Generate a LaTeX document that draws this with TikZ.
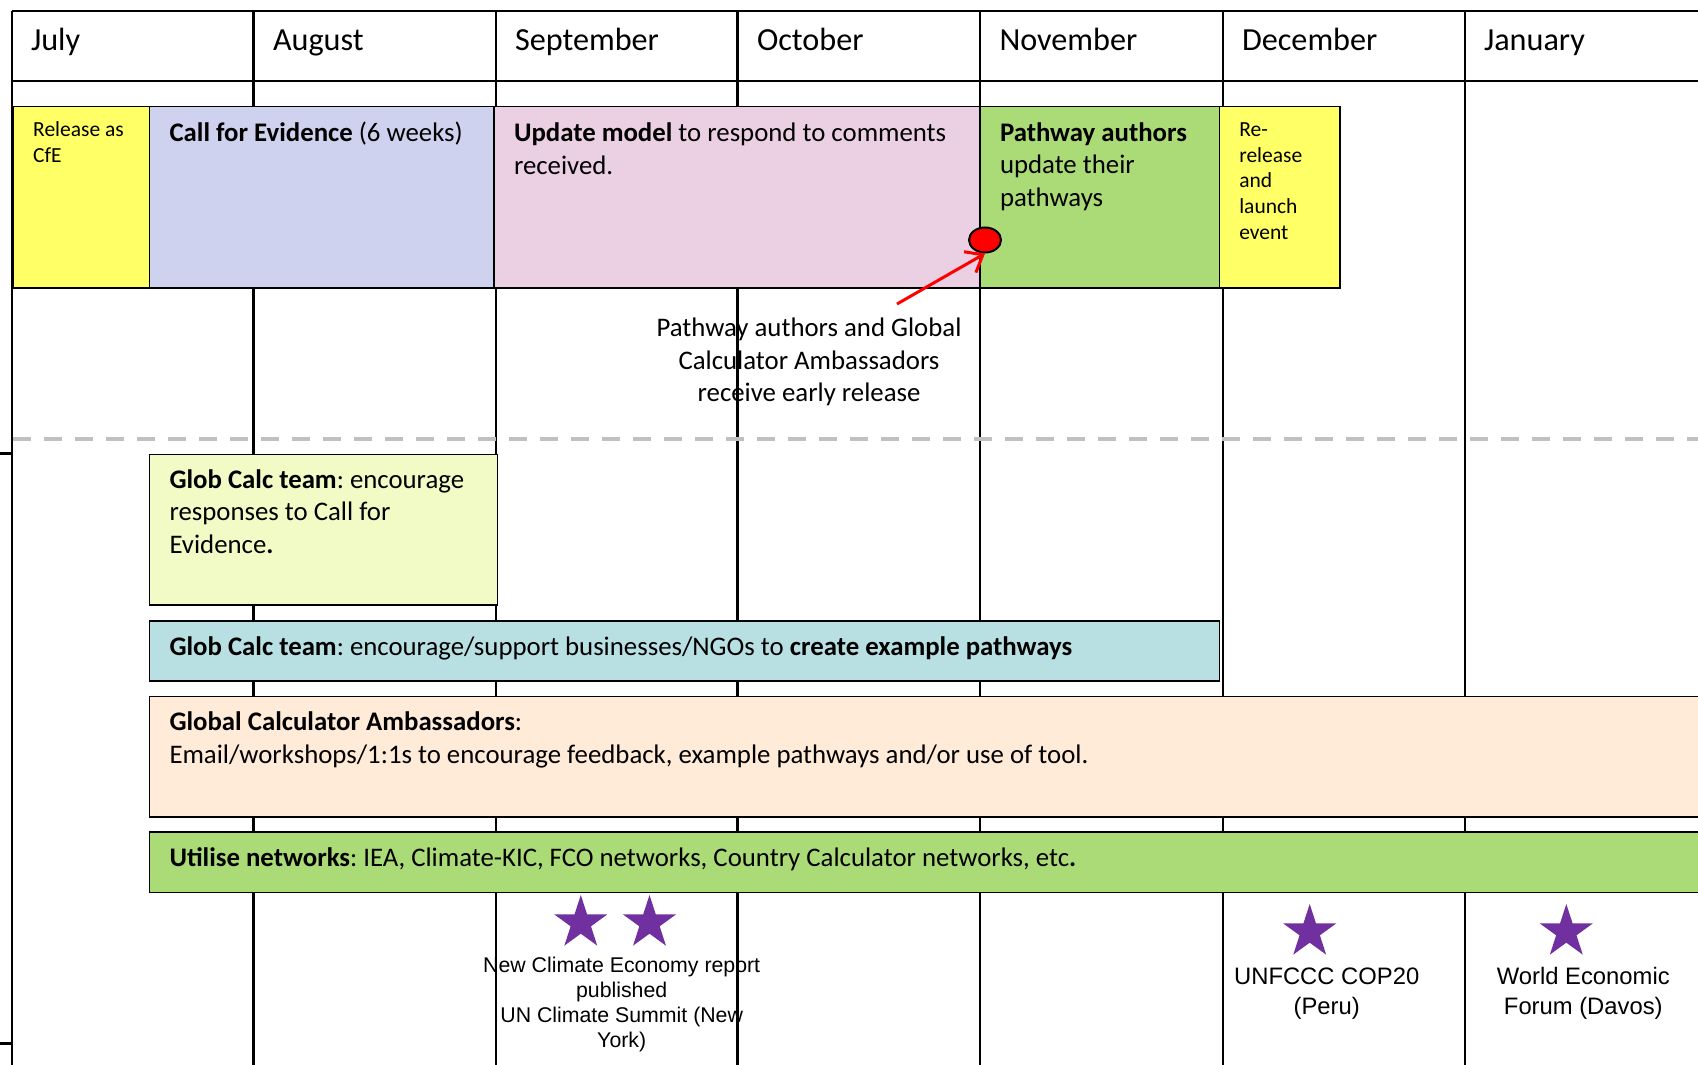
\documentclass[tikz,border=0pt]{standalone}
\usepackage{fontspec}
\setmainfont{Carlito}
\newfontfamily\arialfont{Liberation Sans}
\usetikzlibrary{shapes.geometric,arrows.meta}
\frenchspacing

\definecolor{gcyellow}{RGB}{255,255,102}
\definecolor{gclavender}{RGB}{207,210,238}
\definecolor{gcpink}{RGB}{235,208,227}
\definecolor{gcgreen}{RGB}{171,219,119}
\definecolor{gclime}{RGB}{242,250,197}
\definecolor{gcblue}{RGB}{184,224,227}
\definecolor{gcpeach}{RGB}{255,235,216}
\definecolor{gcpurple}{RGB}{112,48,160}
\definecolor{gcdash}{RGB}{192,192,192}

\newcommand\gcMonth{\fontsize{32.2}{38}\selectfont}
\newcommand\gcBody{\fontsize{26.8}{32.5}\selectfont}
\newcommand\gcSmall{\fontsize{21.5}{25.6}\selectfont}
\newcommand\gcEvent{\arialfont\fontsize{21.3}{25.2}\selectfont}
\newcommand\gcEventBig{\arialfont\fontsize{23.8}{29.2}\selectfont}

\tikzset{
  gridline/.style={line width=2.4pt, black},
  gcbar/.style={draw=black, line width=1.9pt, anchor=north west,
                inner sep=0pt, outer sep=0pt},
  lbl/.style={anchor=north west, inner sep=0pt, outer sep=0pt, align=left,
              font=\gcBody},
  eventlbl/.style={anchor=north, inner sep=0pt, outer sep=0pt, align=center},
  eventstar/.style={star, star points=5, star point ratio=2.618,
              minimum size=56pt, inner sep=0pt, fill=gcpurple, draw=none},
  earlydot/.style={ellipse, draw=black, fill=red, line width=2pt,
              minimum width=32pt, minimum height=25pt, inner sep=0pt},
}

\begin{document}
\begin{tikzpicture}[x=1pt,y=-1pt]
\useasboundingbox (0,0) rectangle (1698,1065);
\clip (0,0) rectangle (1698,1065);

% table grid: header rows and month columns
\draw[gridline] (12,11) -- (1698,11);
\draw[gridline] (12,81) -- (1698,81);
\foreach \cx in {12,253.5,496,737.5,980,1222.7,1465}
  \draw[gridline] (\cx,11) -- (\cx,1065);
\draw[gridline] (0,453.3) -- (12,453.3);
\draw[gridline] (0,1043.3) -- (12,1043.3);

% divider between model work and outreach
\draw[gcdash, line width=4pt, dash pattern=on 18pt off 13pt] (13,439) -- (1698,439);

% month headings
\node[lbl, font=\gcMonth] (jul) at (31,24.4) {\strut July};
\node[lbl, font=\gcMonth] (aug) at (273,24.4) {\strut August};
\node[lbl, font=\gcMonth] (sep) at (515,24.4) {\strut September};
\node[lbl, font=\gcMonth] (oct) at (757,24.4) {\strut October};
\node[lbl, font=\gcMonth] (nov) at (999.5,24.4) {\strut November};
\node[lbl, font=\gcMonth] (dec) at (1242,24.4) {\strut December};
\node[lbl, font=\gcMonth] (jan) at (1484,24.4) {\strut January};

% model timeline
\node[gcbar, fill=gcyellow, minimum width=136.5pt, minimum height=181.5pt] (release) at (13,106.5) {};
\node[gcbar, fill=gclavender, minimum width=344.5pt, minimum height=181.5pt] (cfe) at (149.5,106.5) {};
\node[gcbar, fill=gcpink, minimum width=486pt, minimum height=181.5pt] (update) at (494,106.5) {};
\node[gcbar, fill=gcgreen, minimum width=239.5pt, minimum height=181.5pt] (authors) at (980,106.5) {};
\node[gcbar, fill=gcyellow, minimum width=120.5pt, minimum height=181.5pt] (relaunch) at (1219.5,106.5) {};

\node[lbl, font=\gcSmall] (releasetxt) at (33.2,118.8) {\strut Release as\\CfE};
\node[lbl] (cfetxt) at (169.5,118.95) {\strut\textbf{Call for Evidence} (6 weeks)};
\node[lbl] (updatetxt) at (514,118.95) {\strut\textbf{Update model} to respond to comments\\received.};
\node[lbl] (authorstxt) at (1000,118.25) {\strut\textbf{Pathway authors}\\update their\\pathways};
\node[lbl, font=\gcSmall] (relaunchtxt) at (1239.3,118.8) {\strut Re-\\release\\and\\launch\\event};

% early release marker
\node[earlydot] (early) at (985,240) {};
\coordinate (earlytail) at (897,304);
\draw[red, line width=3pt, -{Straight Barb[length=15pt, width=24pt, line width=3pt]}]
  (earlytail) -- (early.south);
\node[eventlbl, font=\gcBody] (earlytxt) at (809,313.95)
  {\strut Pathway authors and Global\\Calculator Ambassadors\\receive early release};

% outreach activities
\node[gcbar, fill=gclime, minimum width=348pt, minimum height=150.5pt] (encourage) at (149.5,454.5) {};
\node[gcbar, fill=gcblue, minimum width=1070pt, minimum height=60.3pt] (examples) at (149.5,620.7) {};
\node[gcbar, fill=gcpeach, minimum width=1570pt, minimum height=120.2pt] (ambassadors) at (149.5,696.5) {};
\node[gcbar, fill=gcgreen, minimum width=1570pt, minimum height=60.2pt] (networks) at (149.5,832.3) {};

\node[lbl] (encouragetxt) at (169.5,465.55)
  {\strut\textbf{Glob Calc team}: encourage\\responses to Call for\\Evidence\textbf{.}};
\node[lbl] (examplestxt) at (169.5,632.25)
  {\strut\textbf{Glob Calc team}: encourage/support businesses/NGOs to \textbf{create example pathways}};
\node[lbl] (ambassadorstxt) at (169.5,707.95)
  {\strut\textbf{Global Calculator Ambassadors}:\\Email/workshops/1:1s to encourage feedback, example pathways and/or use of tool.};
\node[lbl] (networkstxt) at (169.5,843.25)
  {\strut\textbf{Utilise networks}: IEA, Climate-KIC, FCO networks, Country Calculator networks, etc\textbf{.}};

% key events
\node[eventstar] (ncestar) at (580.8,923) {};
\node[eventstar] (unstar) at (649.5,923) {};
\node[eventstar] (copstar) at (1309.7,932) {};
\node[eventstar] (wefstar) at (1566.3,932) {};

\node[eventlbl, font=\gcEvent] (ncetxt) at (621.7,954.4)
  {\strut New Climate Economy report\\published\\UN Climate Summit (New\\York)};
\node[eventlbl, font=\gcEventBig] (coptxt) at (1326.7,964.5) {\strut UNFCCC COP20\\(Peru)};
\node[eventlbl, font=\gcEventBig] (weftxt) at (1583.3,964.5) {\strut World Economic\\Forum (Davos)};

\end{tikzpicture}
\end{document}
